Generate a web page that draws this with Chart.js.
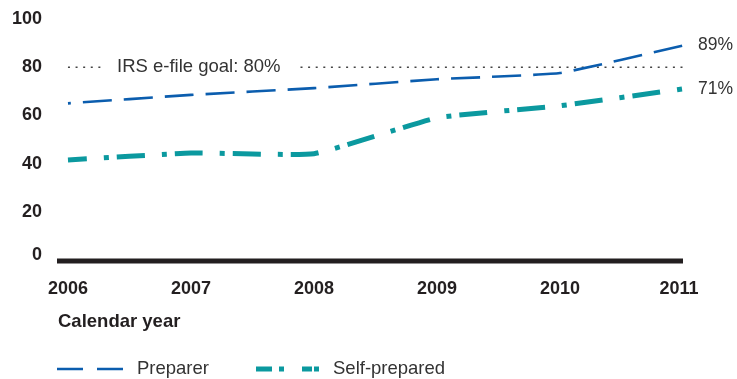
<!DOCTYPE html>
<html>
<head>
<meta charset="utf-8">
<script src="https://cdn.jsdelivr.net/npm/chart.js@4/dist/chart.umd.min.js"></script>
<style>
  html, body { margin: 0; padding: 0; background: #ffffff; }
  #wrap { width: 737px; height: 379px; position: relative; }
</style>
</head>
<body>
<div id="wrap"><canvas id="chart" width="737" height="379"></canvas></div>
<script>
// E-filing rates by calendar year (percent)
const years = [2006, 2007, 2008, 2009, 2010, 2011];
const preparer = [65, 68.5, 71.3, 75, 77.6, 89];
const selfPrepared = [41.5, 44.4, 44.1, 59, 64, 71];
const yTicks = [0, 20, 40, 60, 80, 100];
const goalValue = 80;
const goalLabel = 'IRS e-file goal: 80%';
const axisTitle = 'Calendar year';
const seriesNames = ['Preparer', 'Self-prepared'];

const FONT = '"Liberation Sans", Arial, Helvetica, sans-serif';
const INK = '#231f20';
const TEXT = '#333333';
const BLUE = '#0b5dae';
const TEAL = '#0b999f';

const toPoints = vals => vals.map((v, i) => ({ x: years[i], y: v }));

// Axis labels, goal line, end labels and legend drawn from the chart's scales
const decorations = {
  id: 'decorations',
  beforeDatasetsDraw(chart) {
    const { ctx, chartArea, scales } = chart;
    const xs = scales.x, ys = scales.y;
    ctx.save();

    // goal line with its label
    const gy = ys.getPixelForValue(goalValue);
    const x0 = xs.getPixelForValue(years[0]);
    ctx.font = '18.5px ' + FONT;
    const textX = chartArea.left + 59;
    const tw = ctx.measureText(goalLabel).width;
    ctx.strokeStyle = '#444444';
    ctx.lineWidth = 1.6;
    ctx.setLineDash([2, 5.6]);
    ctx.beginPath();
    ctx.moveTo(x0, gy); ctx.lineTo(textX - 15, gy);
    ctx.moveTo(textX + tw + 20, gy); ctx.lineTo(chartArea.right, gy);
    ctx.stroke();
    ctx.setLineDash([]);
    ctx.fillStyle = TEXT;
    ctx.textBaseline = 'middle';
    ctx.textAlign = 'left';
    ctx.fillText(goalLabel, textX, gy);

    // x axis baseline
    const by = ys.getPixelForValue(0) + 1;
    ctx.strokeStyle = INK;
    ctx.lineWidth = 5;
    ctx.beginPath();
    ctx.moveTo(chartArea.left - 1, by);
    ctx.lineTo(chartArea.right, by);
    ctx.stroke();
    ctx.restore();
  },
  afterDraw(chart) {
    const { ctx, chartArea, scales } = chart;
    const xs = scales.x, ys = scales.y;
    ctx.save();
    ctx.textBaseline = 'middle';

    // y tick labels
    ctx.font = 'bold 18px ' + FONT;
    ctx.fillStyle = INK;
    ctx.textAlign = 'right';
    yTicks.forEach(v => {
      const py = ys.getPixelForValue(v) - (v === 0 ? 5 : 0);
      ctx.fillText(String(v), 42, py);
    });

    // x tick labels
    ctx.textAlign = 'center';
    const ly = ys.getPixelForValue(0) + 29;
    years.forEach((yr, i) => {
      let px = xs.getPixelForValue(yr);
      if (i === years.length - 1) px -= 4;
      ctx.fillText(String(yr), px, ly);
    });

    // axis title
    ctx.font = 'bold 18.5px ' + FONT;
    ctx.textAlign = 'left';
    ctx.fillText(axisTitle, chartArea.left, ly + 33);

    // end-of-line value labels
    ctx.font = '17.5px ' + FONT;
    ctx.fillStyle = TEXT;
    const last = years.length - 1;
    const ex = xs.getPixelForValue(years[last]) + 15;
    ctx.fillText(Math.round(preparer[last]) + '%', ex, ys.getPixelForValue(preparer[last]));
    ctx.fillText(Math.round(selfPrepared[last]) + '%', ex, ys.getPixelForValue(selfPrepared[last]));

    // legend
    const legY = ly + 80;
    ctx.lineCap = 'butt';
    ctx.strokeStyle = BLUE;
    ctx.lineWidth = 2.6;
    ctx.setLineDash([26, 14]);
    ctx.beginPath();
    ctx.moveTo(chartArea.left - 1, legY); ctx.lineTo(chartArea.left + 65, legY);
    ctx.stroke();
    ctx.strokeStyle = TEAL;
    ctx.lineWidth = 5;
    ctx.setLineDash([16, 7, 5, 18, 10, 2, 5, 100]);
    ctx.beginPath();
    ctx.moveTo(256, legY); ctx.lineTo(320, legY);
    ctx.stroke();
    ctx.setLineDash([]);
    ctx.font = '18.5px ' + FONT;
    ctx.fillStyle = TEXT;
    ctx.fillText(seriesNames[0], 137, legY);
    ctx.fillText(seriesNames[1], 333, legY);
    ctx.restore();
  }
};

new Chart(document.getElementById('chart'), {
  type: 'line',
  data: {
    datasets: [
      {
        label: seriesNames[0],
        data: toPoints(preparer),
        borderColor: BLUE,
        borderWidth: 2.6,
        borderDash: [29, 12],
        borderDashOffset: 26,
        borderCapStyle: 'butt',
        tension: 0.12,
        pointRadius: 0,
        fill: false
      },
      {
        label: seriesNames[1],
        data: toPoints(selfPrepared),
        borderColor: TEAL,
        borderWidth: 5,
        borderDash: [28, 17, 5, 8],
        borderDashOffset: 9,
        borderCapStyle: 'butt',
        tension: 0.12,
        pointRadius: 0,
        fill: false
      }
    ]
  },
  options: {
    responsive: false,
    animation: false,
    devicePixelRatio: 1,
    layout: { padding: { left: 58, right: 54, top: 19, bottom: 119 } },
    plugins: { legend: { display: false }, tooltip: { enabled: false } },
    scales: {
      x: { type: 'linear', display: false, min: 2005.919, max: 2011 },
      y: { type: 'linear', display: false, min: 0, max: 100 }
    }
  },
  plugins: [decorations]
});
</script>
</body>
</html>
